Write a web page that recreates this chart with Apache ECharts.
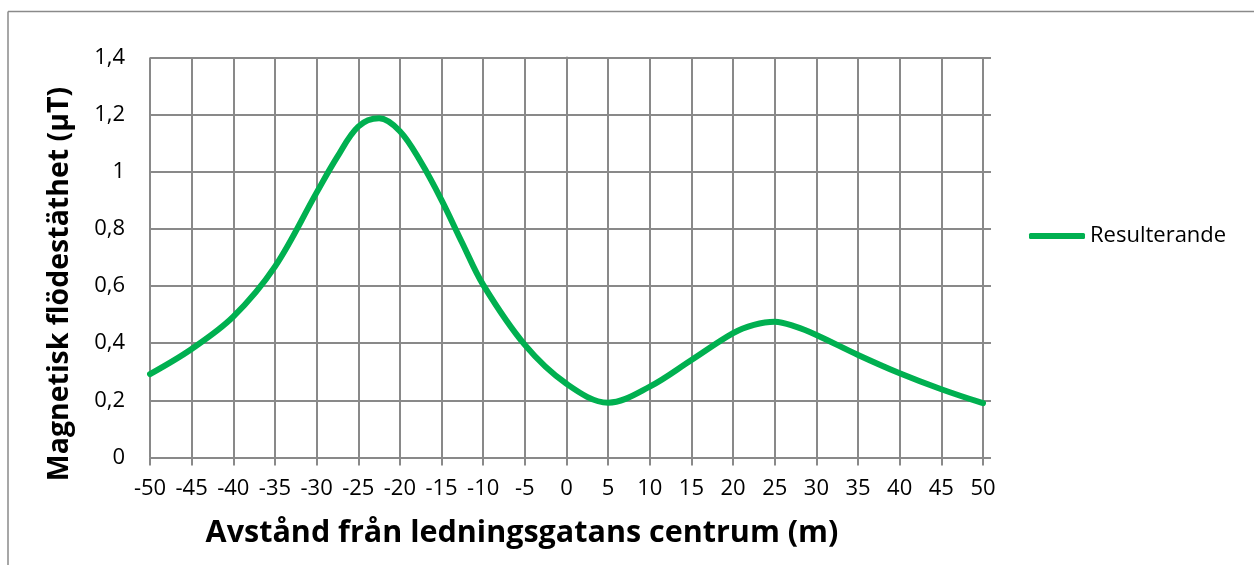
<!DOCTYPE html>
<html>
<head>
<meta charset="utf-8">
<script src="https://cdn.jsdelivr.net/npm/echarts@6/dist/echarts.min.js"></script>
<style>
  html, body { margin: 0; padding: 0; background: #fff; }
  #chart { width: 1254px; height: 565px; }
</style>
</head>
<body>
<div id="chart"></div>
<script>
// Distance from the centre of the corridor (m)
const distances = [-50, -45, -40, -35, -30, -27.5, -25, -22.5, -20, -17.5, -15, -12.5, -10, -5, 0, 5, 10, 15, 20, 22.5, 25, 27.5, 30, 35, 40, 45, 50];
// Resulting magnetic flux density (µT)
const resulterande = [0.292, 0.380, 0.493, 0.668, 0.927, 1.053, 1.158, 1.187, 1.142, 1.035, 0.901, 0.750, 0.604, 0.394, 0.258, 0.192, 0.248, 0.341, 0.435, 0.464, 0.475, 0.458, 0.429, 0.359, 0.295, 0.239, 0.190];
// Y tick labels (Swedish decimal comma)
const yTickValues = [0, 0.2, 0.4, 0.6, 0.8, 1, 1.2, 1.4];
const yTickLabels = ['0', '0,2', '0,4', '0,6', '0,8', '1', '1,2', '1,4'];
const seriesName = 'Resulterande';
const xTitle = 'Avstånd från ledningsgatans centrum (m)';
const yTitle = 'Magnetisk flödestäthet (µT)';

const gridColor = '#898989';
const font = "'Open Sans', 'Noto Sans', sans-serif";

function yLabel(v) {
  for (let i = 0; i < yTickValues.length; i++) {
    if (Math.abs(yTickValues[i] - v) < 1e-6) return yTickLabels[i];
  }
  return '';
}

const chart = echarts.init(document.getElementById('chart'), null, { renderer: 'canvas' });
chart.setOption({
  animation: false,
  backgroundColor: '#ffffff',
  grid: { left: 150, right: 271, top: 57.5, bottom: 107.5, containLabel: false },
  legend: {
    data: [seriesName],
    left: 1029,
    top: 225,
    padding: 0,
    itemWidth: 56,
    itemHeight: 6,
    icon: 'roundRect',
    itemStyle: { color: '#00B050' },
    textStyle: { fontFamily: font, fontSize: 22, color: '#000' }
  },
  xAxis: {
    type: 'value',
    min: -50, max: 50, interval: 5,
    axisLine: { show: true, lineStyle: { color: gridColor, width: 2 } },
    axisTick: { show: true, length: 8, lineStyle: { color: gridColor, width: 2 } },
    splitLine: { show: true, lineStyle: { color: gridColor, width: 2 } },
    axisLabel: { fontFamily: font, fontSize: 22, color: '#000', margin: 20, showMinLabel: true, showMaxLabel: true }
  },
  yAxis: [{
    type: 'value',
    min: 0, max: 1.4, interval: 0.2,
    axisLine: { show: true, lineStyle: { color: gridColor, width: 2 } },
    axisTick: { show: true, length: 8, lineStyle: { color: gridColor, width: 2 } },
    splitLine: { show: true, lineStyle: { color: gridColor, width: 2 } },
    axisLabel: { fontFamily: font, fontSize: 22, color: '#000', margin: 25, formatter: yLabel }
  }, {
    type: 'value',
    position: 'right',
    min: 0, max: 1.4, interval: 0.2,
    axisLine: { show: false },
    axisTick: { show: true, length: 8, lineStyle: { color: gridColor, width: 2 } },
    splitLine: { show: false },
    axisLabel: { show: false }
  }],
  series: [{
    name: seriesName,
    type: 'line',
    yAxisIndex: 0,
    data: distances.map((d, i) => [d, resulterande[i]]),
    smooth: 0.35,
    symbol: 'none',
    lineStyle: { color: '#00B050', width: 6, cap: 'round' },
    itemStyle: { color: '#00B050' }
  }],
  graphic: [
    { type: 'line', shape: { x1: 8, y1: 11.5, x2: 1254, y2: 11.5 }, style: { stroke: '#8a8a8a', lineWidth: 1.5 } },
    { type: 'line', shape: { x1: 8, y1: 11.5, x2: 8, y2: 565 }, style: { stroke: '#8a8a8a', lineWidth: 1.5 } },
    { type: 'text', x: 522, y: 533, style: { text: xTitle, font: "bold 30.5px 'Open Sans', sans-serif", fill: '#000', textAlign: 'center', textVerticalAlign: 'middle' } },
    { type: 'text', x: 60, y: 284, rotation: Math.PI / 2, style: { text: yTitle, font: "bold 28.5px 'Open Sans', sans-serif", fill: '#000', textAlign: 'center', textVerticalAlign: 'middle' } }
  ]
});
</script>
</body>
</html>
